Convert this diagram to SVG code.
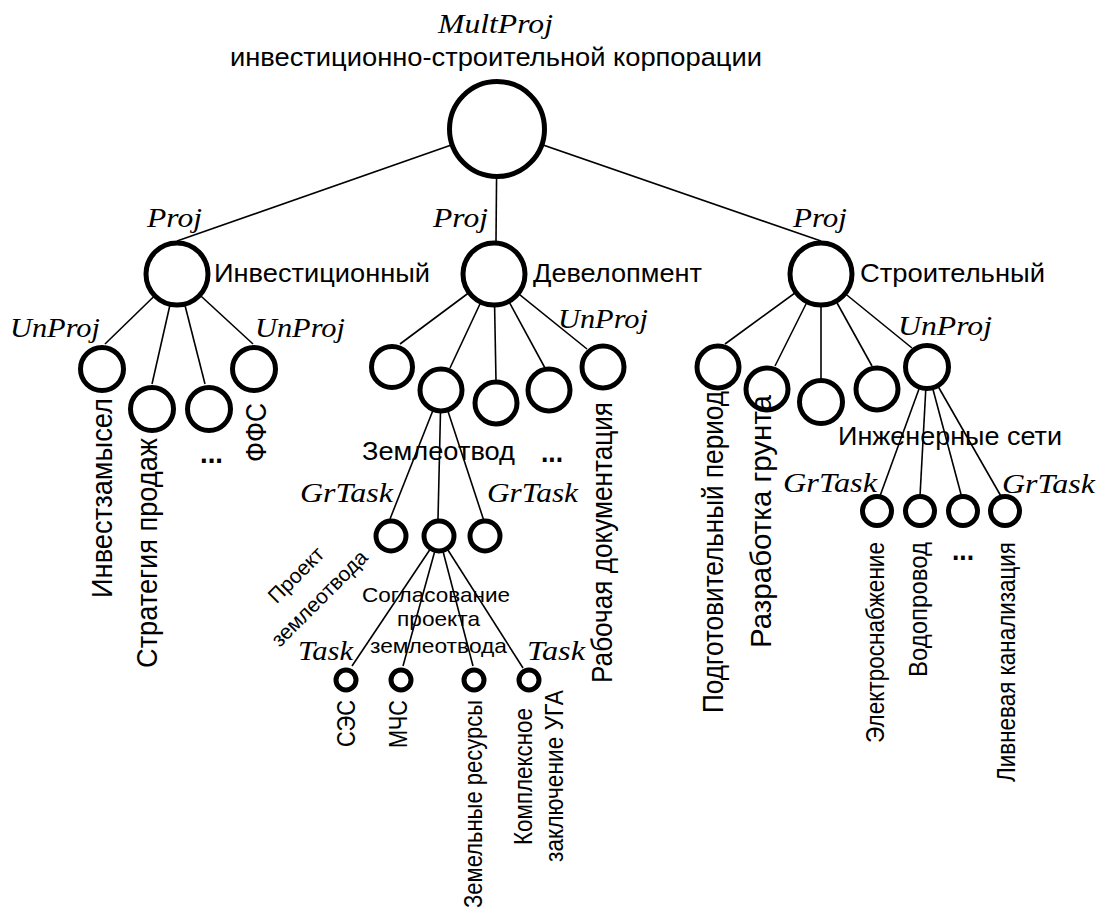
<svg xmlns="http://www.w3.org/2000/svg" width="1102" height="911" viewBox="0 0 1102 911">
  <style>
    .bg { fill: #ffffff; }
    .edge { stroke: #000; stroke-width: 1.6; fill: none; }
    .n0 { fill: #fff; stroke: #000; stroke-width: 5; }
    .n1 { fill: #fff; stroke: #000; stroke-width: 5; }
    .n2 { fill: #fff; stroke: #000; stroke-width: 5; }
    .n3 { fill: #fff; stroke: #000; stroke-width: 5; }
    .n4 { fill: #fff; stroke: #000; stroke-width: 5; }
    .kind { font-family: "Liberation Serif", "Times New Roman", serif; font-style: italic; font-weight: normal; font-size: 28px; fill: #000; }
    .lbl { font-family: "Liberation Sans", Arial, sans-serif; font-size: 26px; fill: #000; }
    .lbl-s { font-family: "Liberation Sans", Arial, sans-serif; font-size: 21px; fill: #000; }
    .vlbl { font-family: "Liberation Sans", Arial, sans-serif; font-size: 29px; fill: #000; }
    .vlbl-s { font-family: "Liberation Sans", Arial, sans-serif; font-size: 25px; fill: #000; }
    .dots { font-family: "Liberation Sans", Arial, sans-serif; font-size: 30px; font-weight: bold; fill: #000; }
  </style>
  <rect class="bg" x="0" y="0" width="1102" height="911"/>

  <!-- connectors -->
  <g id="connectors" class="edge">
    <!-- corporation to projects -->
    <line x1="497" y1="129" x2="177" y2="241"/>
    <line x1="497" y1="129" x2="496" y2="241"/>
    <line x1="497" y1="129" x2="821" y2="241"/>
    <!-- investment project -->
    <line x1="177" y1="274" x2="105" y2="344"/>
    <line x1="177" y1="274" x2="152" y2="384"/>
    <line x1="177" y1="274" x2="205" y2="384"/>
    <line x1="177" y1="274" x2="253" y2="344"/>
    <!-- development project -->
    <line x1="494" y1="274" x2="400" y2="344"/>
    <line x1="494" y1="274" x2="450" y2="368"/>
    <line x1="494" y1="274" x2="496" y2="381"/>
    <line x1="494" y1="274" x2="545" y2="368"/>
    <line x1="494" y1="274" x2="587" y2="349"/>
    <!-- land allotment -->
    <line x1="441" y1="390" x2="390" y2="519"/>
    <line x1="441" y1="390" x2="438" y2="519"/>
    <line x1="441" y1="390" x2="484" y2="521"/>
    <!-- approval tasks -->
    <line x1="439" y1="536" x2="352" y2="666"/>
    <line x1="439" y1="536" x2="403" y2="666"/>
    <line x1="439" y1="536" x2="473" y2="666"/>
    <line x1="439" y1="536" x2="523" y2="668"/>
    <!-- construction project -->
    <line x1="821" y1="274" x2="725" y2="344"/>
    <line x1="821" y1="274" x2="775" y2="366"/>
    <line x1="821" y1="274" x2="821" y2="379"/>
    <line x1="821" y1="274" x2="872" y2="366"/>
    <line x1="821" y1="274" x2="912" y2="348"/>
    <!-- utility networks -->
    <line x1="927" y1="367" x2="880" y2="496"/>
    <line x1="927" y1="367" x2="920" y2="496"/>
    <line x1="927" y1="367" x2="962" y2="498"/>
    <line x1="927" y1="367" x2="1002" y2="498"/>
  </g>

  <!-- root -->
  <g id="corp">
    <circle class="n0" cx="497" cy="129" r="47.5"/>
    <text class="kind" x="438" y="33" textLength="115" lengthAdjust="spacingAndGlyphs">MultProj</text>
    <text class="lbl" x="230" y="66" textLength="532" lengthAdjust="spacingAndGlyphs">инвестиционно-строительной корпорации</text>
  </g>

  <!-- level 1 projects -->
  <g id="proj-invest">
    <circle class="n1" cx="177" cy="274" r="31"/>
    <text class="kind" x="147" y="227" textLength="55" lengthAdjust="spacingAndGlyphs">Proj</text>
    <text class="lbl" x="214" y="282" textLength="216" lengthAdjust="spacingAndGlyphs">Инвестиционный</text>
  </g>
  <g id="proj-devel">
    <circle class="n1" cx="494" cy="274" r="31"/>
    <text class="kind" x="433" y="227" textLength="55" lengthAdjust="spacingAndGlyphs">Proj</text>
    <text class="lbl" x="533" y="282" textLength="169" lengthAdjust="spacingAndGlyphs">Девелопмент</text>
  </g>
  <g id="proj-build">
    <circle class="n1" cx="821" cy="274" r="31"/>
    <text class="kind" x="793" y="227" textLength="54" lengthAdjust="spacingAndGlyphs">Proj</text>
    <text class="lbl" x="860" y="282" textLength="185" lengthAdjust="spacingAndGlyphs">Строительный</text>
  </g>

  <!-- investment sub-projects -->
  <g id="inv-idea">
    <circle class="n2" cx="102" cy="369" r="21.5"/>
    <text class="kind" x="10" y="337" textLength="90" lengthAdjust="spacingAndGlyphs">UnProj</text>
    <text class="vlbl" transform="translate(112,598) rotate(-90)" textLength="200" lengthAdjust="spacingAndGlyphs">Инвестзамысел</text>
  </g>
  <g id="inv-sales">
    <circle class="n2" cx="152" cy="409" r="21.5"/>
    <text class="vlbl" transform="translate(157,668) rotate(-90)" textLength="230" lengthAdjust="spacingAndGlyphs">Стратегия продаж</text>
  </g>
  <g id="inv-more">
    <circle class="n2" cx="209" cy="409" r="21.5"/>
    <text class="dots" x="200" y="463" textLength="23" lengthAdjust="spacingAndGlyphs">...</text>
  </g>
  <g id="inv-ffs">
    <circle class="n2" cx="254" cy="369" r="21.5"/>
    <text class="kind" x="255" y="337" textLength="90" lengthAdjust="spacingAndGlyphs">UnProj</text>
    <text class="vlbl" transform="translate(266,462) rotate(-90)" textLength="59" lengthAdjust="spacingAndGlyphs">ФФС</text>
  </g>

  <!-- development sub-projects -->
  <g id="dev-1"><circle class="n2" cx="392" cy="367" r="20.5"/></g>
  <g id="dev-land">
    <circle class="n2" cx="441" cy="390" r="21"/>
    <text class="lbl" x="362" y="460" font-size="25" textLength="153" lengthAdjust="spacingAndGlyphs">Землеотвод</text>
  </g>
  <g id="dev-3"><circle class="n2" cx="496" cy="403" r="21"/></g>
  <g id="dev-4">
    <circle class="n2" cx="549" cy="390" r="21"/>
    <text class="dots" x="541" y="462" textLength="22" lengthAdjust="spacingAndGlyphs">...</text>
  </g>
  <g id="dev-docs">
    <circle class="n2" cx="603" cy="367" r="21"/>
    <text class="kind" x="558" y="328" textLength="90" lengthAdjust="spacingAndGlyphs">UnProj</text>
    <text class="vlbl" transform="translate(612,683) rotate(-90)" textLength="281" lengthAdjust="spacingAndGlyphs">Рабочая документация</text>
  </g>

  <!-- land allotment task groups -->
  <g id="land-project">
    <circle class="n3" cx="391" cy="536" r="15"/>
    <text class="kind" x="300" y="502" textLength="93" lengthAdjust="spacingAndGlyphs">GrTask</text>
    <g transform="translate(301,580) rotate(-45)">
      <text class="lbl-s" x="0" y="0" font-size="22" text-anchor="middle">Проект</text>
      <text class="lbl-s" x="0" y="33" font-size="22" text-anchor="middle">землеотвода</text>
    </g>
  </g>
  <g id="land-approval">
    <circle class="n3" cx="439" cy="536" r="15"/>
    <text class="lbl-s" x="362" y="602" textLength="148" lengthAdjust="spacingAndGlyphs">Согласование</text>
    <text class="lbl-s" x="397" y="626" textLength="83" lengthAdjust="spacingAndGlyphs">проекта</text>
    <text class="lbl-s" x="370" y="653" textLength="137" lengthAdjust="spacingAndGlyphs">землеотвода</text>
  </g>
  <g id="land-3">
    <circle class="n3" cx="485" cy="536" r="15"/>
    <text class="kind" x="487" y="502" textLength="91" lengthAdjust="spacingAndGlyphs">GrTask</text>
  </g>

  <!-- approval tasks -->
  <g id="task-ses">
    <circle class="n4" cx="346" cy="680" r="10"/>
    <text class="kind" x="298" y="660" textLength="55" lengthAdjust="spacingAndGlyphs">Task</text>
    <text class="vlbl-s" transform="translate(355,747) rotate(-90)" textLength="47" lengthAdjust="spacingAndGlyphs">СЭС</text>
  </g>
  <g id="task-mchs">
    <circle class="n4" cx="401" cy="680" r="10"/>
    <text class="vlbl-s" transform="translate(407,748) rotate(-90)" textLength="48" lengthAdjust="spacingAndGlyphs">МЧС</text>
  </g>
  <g id="task-land">
    <circle class="n4" cx="474" cy="680" r="10"/>
    <text class="vlbl-s" transform="translate(482,908) rotate(-90)" textLength="208" lengthAdjust="spacingAndGlyphs">Земельные ресурсы</text>
  </g>
  <g id="task-uga">
    <circle class="n4" cx="529" cy="680" r="10"/>
    <text class="kind" x="527" y="660" textLength="58" lengthAdjust="spacingAndGlyphs">Task</text>
    <text class="vlbl-s" transform="translate(532,845) rotate(-90)" textLength="137" lengthAdjust="spacingAndGlyphs">Комплексное</text>
    <text class="vlbl-s" transform="translate(563,862) rotate(-90)" textLength="172" lengthAdjust="spacingAndGlyphs">заключение УГА</text>
  </g>

  <!-- construction sub-projects -->
  <g id="bld-prep">
    <circle class="n2" cx="718" cy="367" r="21"/>
    <text class="vlbl" transform="translate(723,713) rotate(-90)" textLength="322" lengthAdjust="spacingAndGlyphs">Подготовительный период</text>
  </g>
  <g id="bld-soil">
    <circle class="n2" cx="767" cy="389" r="21"/>
    <text class="vlbl" transform="translate(771,648) rotate(-90)" textLength="253" lengthAdjust="spacingAndGlyphs">Разработка грунта</text>
  </g>
  <g id="bld-3"><circle class="n2" cx="821" cy="402" r="21.5"/></g>
  <g id="bld-4"><circle class="n2" cx="877" cy="389" r="21"/></g>
  <g id="bld-nets">
    <circle class="n2" cx="927" cy="367" r="21.5"/>
    <text class="kind" x="898" y="335" textLength="94" lengthAdjust="spacingAndGlyphs">UnProj</text>
    <text class="lbl" x="838" y="445" textLength="224" lengthAdjust="spacingAndGlyphs">Инженерные сети</text>
  </g>

  <!-- utility network task groups -->
  <g id="net-power">
    <circle class="n3" cx="877" cy="511" r="14.5"/>
    <text class="kind" x="783" y="492" textLength="94" lengthAdjust="spacingAndGlyphs">GrTask</text>
    <text class="vlbl-s" transform="translate(884,743) rotate(-90)" textLength="201" lengthAdjust="spacingAndGlyphs">Электроснабжение</text>
  </g>
  <g id="net-water">
    <circle class="n3" cx="920" cy="511" r="14.5"/>
    <text class="vlbl-s" transform="translate(927,677) rotate(-90)" textLength="135" lengthAdjust="spacingAndGlyphs">Водопровод</text>
  </g>
  <g id="net-more">
    <circle class="n3" cx="963" cy="511" r="14.5"/>
    <text class="dots" x="952" y="560" textLength="22" lengthAdjust="spacingAndGlyphs">...</text>
  </g>
  <g id="net-storm">
    <circle class="n3" cx="1005" cy="511" r="14.5"/>
    <text class="kind" x="1002" y="493" textLength="93" lengthAdjust="spacingAndGlyphs">GrTask</text>
    <text class="vlbl-s" transform="translate(1015,782) rotate(-90)" textLength="240" lengthAdjust="spacingAndGlyphs">Ливневая канализация</text>
  </g>
</svg>
